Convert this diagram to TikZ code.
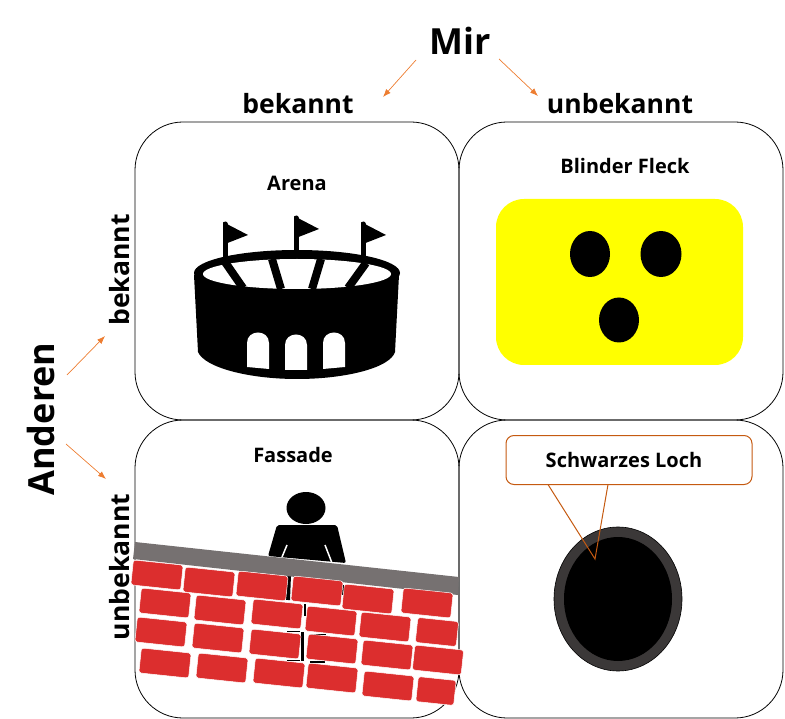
\documentclass[tikz,border=0pt]{standalone}
\usepackage{fontspec}
\usetikzlibrary{shapes.geometric,arrows.meta}
\setmainfont{Open Sans}
\definecolor{pfeilorange}{HTML}{ED7D31}
\definecolor{lochrand}{HTML}{C55A11}
\definecolor{mauergrau}{HTML}{767171}
\definecolor{ziegelrot}{HTML}{DC2E2E}
\definecolor{ringgrau}{HTML}{3B3838}
\definecolor{gelb}{RGB}{255,255,0}
\begin{document}
\begin{tikzpicture}[
  x=1pt, y=-1pt,
  feld/.style = {shape=rectangle, rounded corners=48pt, draw, line width=0.8pt,
    minimum width=324pt, minimum height=298pt, inner sep=0pt},
  gross/.style = {font=\bfseries\fontsize{36}{40}\selectfont, inner sep=0pt},
  achse/.style = {font=\bfseries\fontsize{26.5}{30}\selectfont, inner sep=0pt},
  titel/.style = {font=\bfseries\fontsize{20}{24}\selectfont, inner sep=0pt},
  pfeil/.style = {-{Latex[length=8pt,width=6pt]}, pfeilorange, line width=0.7pt},
  ziegel/.style = {shape=rectangle, rounded corners=2.5pt, fill=ziegelrot, draw=white,
    line width=0.5pt, minimum height=25pt, inner sep=0pt, rotate=-6}
  ]
  \useasboundingbox (0,0) rectangle (785,719);

  % felder
  \node[feld] (arena) at (297,271) {};
  \node[feld] (fleck) at (621,271) {};
  \node[feld] (fassade) at (297,569) {};
  \node[feld] (loch) at (621,569) {};

  % beschriftung aussen
  \node[gross] (mir) at (460,41) {Mir};
  \node[achse] (obenbek) at (298,104) {bekannt};
  \node[achse] (obenunb) at (620,104) {unbekannt};
  \node[gross, rotate=90] (anderen) at (41,419) {Anderen};
  \node[achse, rotate=90] (linksbek) at (120,270) {bekannt};
  \node[achse, rotate=90] (linksunb) at (120,567) {unbekannt};

  \coordinate (mirl) at (416,60);
  \coordinate (mirr) at (499,59);
  \coordinate (bekl) at (383,97);
  \coordinate (unbr) at (538,96);
  \coordinate (ando) at (67,375);
  \coordinate (andu) at (66,444);
  \coordinate (beko) at (105,336);
  \coordinate (unbu) at (106,479);
  \draw[pfeil] (mirl) -- (bekl);
  \draw[pfeil] (mirr) -- (unbr);
  \draw[pfeil] (ando) -- (beko);
  \draw[pfeil] (andu) -- (unbu);

  \node[titel] (arenatext) at (297,183) {Arena};
  \node[titel] (flecktext) at (625,166) {Blinder Fleck};
  \node[titel] (fassadetext) at (293,455) {Fassade};

  % arena
  \foreach \fx/\fy in {225/222, 296/216, 363/222} {
    \draw[line width=5pt, line cap=round] (\fx,\fy+2) -- (\fx,\fy+42);
    \fill (\fx-2,\fy) -- (\fx+23,\fy+13) -- (\fx,\fy+22) -- cycle;
  }
  \fill (194,275) -- (198,352) .. controls (205,368) and (250,379) .. (297,379)
    .. controls (345,379) and (390,368) .. (395,352) -- (399,275) -- cycle;
  \fill (297,273) ellipse [x radius=103, y radius=23];
  \fill[white] (297,274) ellipse [x radius=94, y radius=15];
  \draw[line width=8pt] (225,262) -- (243,288);
  \draw[line width=8pt] (272,259) -- (281,289);
  \draw[line width=8pt] (321,259) -- (312,289);
  \draw[line width=8pt] (366,263) -- (348,288);
  \foreach \dx/\dt/\bl/\br in {247/332/367/369, 285/334/370/370, 323/332/369/367} {
    \fill[white] (\dx,\bl) -- (\dx,\dt+11) .. controls (\dx,\dt-3) and (\dx+22,\dt-3) .. (\dx+22,\dt+11)
      -- (\dx+22,\br) -- cycle;
  }

  % blinder fleck
  \node[shape=rectangle, rounded corners=28pt, fill=gelb, minimum width=247pt,
    minimum height=166pt, inner sep=0pt] (gesicht) at (619.5,282) {};
  \node[shape=ellipse, fill=black, minimum width=40pt, minimum height=46pt, inner sep=0pt] (augel) at (590,254) {};
  \node[shape=ellipse, fill=black, minimum width=41pt, minimum height=46pt, inner sep=0pt] (auger) at (661,254) {};
  \node[shape=ellipse, fill=black, minimum width=40pt, minimum height=45pt, inner sep=0pt] (mund) at (619,320) {};

  % fassade
  \fill (306,508) ellipse [x radius=19.5, y radius=16];
  \fill[rounded corners=2pt] (277,525) -- (337,525) -- (346,563) -- (268,556) -- cycle;
  \draw[white, line width=1.5pt] (287,545) -- (282,557);
  \draw[white, line width=1.5pt] (325,545) -- (332,563);
  \draw[line width=4pt] (289,575) -- (288,600);
  \draw[line width=2pt] (305,604) -- (305,616);
  \draw[line width=3pt] (302,632) -- (302,661);
  \draw[line width=1pt] (287,631) -- (300,631);
  \draw[line width=1pt] (310,634) -- (326,634);
  \draw[line width=1pt] (287,660) -- (300,660);
  \draw[line width=1.5pt] (310,662) -- (325,662);
  \draw[line width=1.5pt] (343,585) -- (343,595);
  \fill[mauergrau] (135,542) -- (459,577) -- (458,595) -- (133,559) -- cycle;
  \foreach \zx/\zy/\zb [count=\zn] in {157/575/50, 209/582/50, 262/586/50, 317/591/50, 368/599/50, 427/603/50,
      165/603/50, 220/610/50, 277/614/50, 331/621/50, 385/627/50, 437/632/41,
      161/632/50, 218/638/50, 275/644/50, 332/649/50, 387/655/50, 438/660/49,
      165/663/50, 222/668/50, 279/673/50, 332/678/50, 388/686/50, 436/691/38} {
    \node[ziegel, minimum width=\zb pt] (z\zn) at (\zx,\zy) {};
  }

  % schwarzes loch
  \node[shape=ellipse, fill=ringgrau, draw, line width=0.6pt, minimum width=128pt,
    minimum height=144pt, inner sep=0pt] (ring) at (618,599) {};
  \node[shape=ellipse, fill=black, minimum width=108pt, minimum height=124pt,
    inner sep=0pt] (kern) at (618,599) {};
  \node[shape=rectangle, rounded corners=8pt, draw=lochrand, fill=white, line width=1pt,
    minimum width=246pt, minimum height=49pt, inner sep=0pt] (lochtext) at (629,460) {};
  \node[titel] (lochname) at (624,460) {Schwarzes Loch};
  \coordinate (zipfell) at (548,484.5);
  \coordinate (zipfelr) at (608,484.5);
  \coordinate (spitze) at (595,559);
  \draw[lochrand, line width=1pt] (zipfell) -- (spitze) -- (zipfelr);
\end{tikzpicture}
\end{document}
